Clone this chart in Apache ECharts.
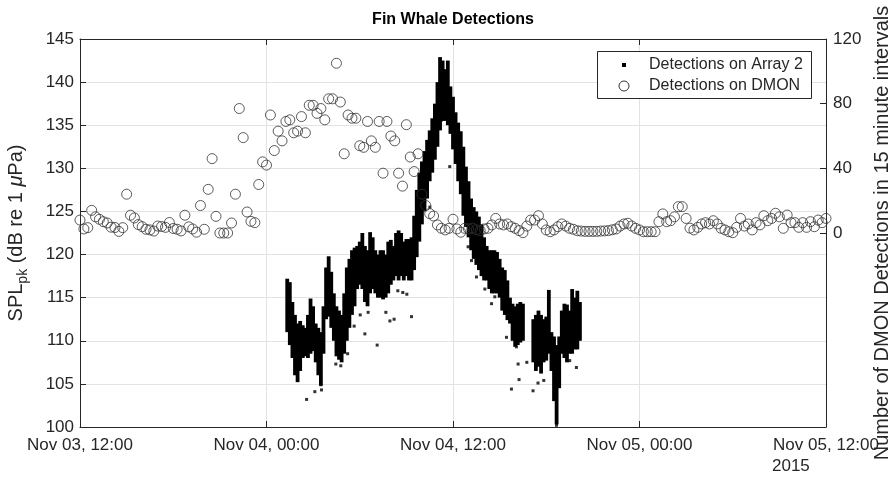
<!DOCTYPE html>
<html>
<head>
<meta charset="utf-8">
<script src="https://cdn.jsdelivr.net/npm/echarts@6/dist/echarts.min.js"></script>
<style>
html, body { margin: 0; padding: 0; background: #fff; }
#chart { width: 890px; height: 480px; }
</style>
</head>
<body>
<div id="chart"></div>
<script>
// Time is measured in hours since Nov 03 2015, 12:00.
const xTickLabels = ['Nov 03, 12:00', 'Nov 04, 00:00', 'Nov 04, 12:00', 'Nov 05, 00:00', 'Nov 05, 12:00'];
const xYearLabel = '2015';

// DMON: number of detections in each 15 minute interval
const dmonStartHour = 0;
const dmonStepHours = 0.25;
const dmonCounts = [
  8, 2.5, 3.3, 14, 10, 8.5, 7, 6.2, 3.6, 3.4,
  1, 3.3, 24, 11, 9.3, 5.2, 3.9, 2.3, 1.9, 1.2,
  4.3, 4, 3.5, 6.5, 2.8, 2.3, 1.3, 11, 3.8, 2.5,
  0.5, 17, 2.3, 27, 46, 10.3, 0, 0, 0, 6.2,
  24, 77, 59, 13, 7.2, 6.4, 30, 44, 42, 73,
  51, 63, 57, 69, 70, 62, 63, 72, 62, 79,
  79, 74, 77, 70, 83, 83, 105, 81, 49, 73,
  71, 71, 54, 53, 69, 57, 53, 69, 37, 69,
  60, 57, 37, 29, 67, 47, 38, 49, 24, 17,
  12, 10.5, 5, 2.9, 1.9, 2.9, 8.5, 2.5, 0.5, 2.9,
  2.5, 3, 2, 1.5, 2.5, 2.9, 5, 9, 5.6, 5,
  5.6, 3.9, 2.9, 1.5, 0.2, 4.3, 8, 8, 10.7, 5.6,
  1.9, 0.8, 1.9, 3.9, 5.6, 4.3, 2.9, 2.3, 1.4, 1.2,
  1, 1, 1, 1, 1.2, 1.3, 1.5, 2, 2.5, 4.3,
  5.6, 6, 4.3, 2.9, 1.9, 0.8, 0.8, 0.8, 0.8, 7,
  11.8, 7, 7.6, 10, 16.3, 16.3, 9, 3, 1.9, 3.5,
  5.6, 6.4, 5.6, 7.6, 5.6, 2.9, 1.9, 0.8, 0.2, 3.5,
  9, 4.3, 5.6, 1.9, 6.4, 5, 10.7, 7.6, 9, 12.2,
  10, 2.9, 11.1, 6.4, 6.4, 3.5, 6.4, 3.5, 7, 3.9,
  8, 6.4, 9
];

// Array 2: spread of peak SPL of the detections in each 10 minute slot (null = no detections)
const arrayStartHour = 13 + 20 / 60;
const arrayStepHours = 10 / 60;
const arrayHigh = [
  117.2, 116.8, 114.5, 113.0, 112.0, 112.3, 111.8, 111.5, 113.0, 114.9,
  114.0, 112.0, 111.5, 111.0, 114.0, 118.5, 119.8, 118.0, 115.5, 114.0,
  113.5, 113.0, 115.5, 118.5, 119.5, 120.5, 120.8, 121.0, 121.5, 122.5,
  121.0, 120.5, 122.6, 122.0, 120.5, 120.0, 120.5, 120.5, 120.0, 121.5,
  121.7, 121.0, 122.5, 122.8, 122.5, 121.5, 121.8, 121.8, 122.0, 124.5,
  127.5, 129.5, 130.8, 132.0, 133.3, 134.4, 135.8, 137.5, 140.0, 142.9,
  142.5, 141.5, 142.5, 139.5, 138.3, 136.5, 135.3, 134.3, 132.5, 130.2,
  128.5, 126.5, 125.5, 125.0, 124.4, 123.5, 122.0, 121.0, 120.5, 120.5,
  120.5, 120.3, 119.5, 118.5, 118.2, 117.0, 115.0, 114.3, 114.0, 114.3,
  114.5, 114.3, null, null, null, 112.5, 113.0, 113.5, 113.0, 112.5,
  112.8, 115.9, 111.0, 110.5, 109.5, 110.5, 113.5, 114.3, 114.2, 113.5,
  116.0, 115.0, 115.8, 114.5
];
const arrayLow = [
  111.0, 109.5, 108.0, 106.0, 105.2, 106.5, 108.0, 108.2, 108.0, 108.5,
  108.8, 107.5, 106.0, 104.8, 108.5, 112.5, 112.8, 111.5, 110.0, 108.2,
  107.8, 107.5, 108.5, 110.0, 111.5, 113.0, 114.0, 116.0, 116.5, 116.0,
  114.5, 114.0, 115.5, 116.0, 115.5, 115.0, 115.0, 114.8, 115.0, 115.5,
  116.5, 117.0, 117.5, 117.0, 117.5, 117.0, 117.5, 117.0, 117.0, 118.2,
  119.7, 121.5, 123.5, 125.0, 126.5, 128.5, 129.5, 131.0, 132.5, 134.4,
  135.5, 135.5, 135.0, 134.0, 132.2, 130.5, 128.5, 127.0, 124.5, 123.2,
  122.0, 120.5, 119.5, 118.8, 118.2, 117.5, 117.0, 117.0, 116.0, 115.5,
  115.5, 115.5, 115.0, 113.5, 113.0, 112.4, 112.0, 110.0, 109.3, 109.5,
  109.8, 110.0, null, null, null, 107.5, 106.5, 107.0, 106.2, 107.5,
  107.7, 108.5, 106.5, 103.0, 100.3, 104.5, 108.5, 108.0, 107.5, 108.5,
  108.5, 109.0, 109.0, 110.0
];

// Array 2: isolated detections away from the main cluster
const outlierHours = [
  14.58, 15.11, 15.54, 15.50, 16.46, 16.78, 17.22, 17.64, 18.03, 18.33,
  18.54, 19.12, 19.68, 19.94, 20.21, 21.33, 20.45, 20.77, 21.03, 23.26,
  23.79, 22.51, 24.87, 24.97, 25.19, 25.51, 25.83, 26.05, 26.48, 26.69,
  27.44, 27.76, 28.25, 28.19, 28.08, 29.15, 29.47, 29.84, 30.66, 31.51,
  31.94, 28.75
];
const outlierSpl = [
  103.2, 104.1, 104.3, 104.9, 107.3, 107.1, 108.5, 111.7, 113.0, 110.8,
  113.3, 109.5, 113.3, 112.3, 112.5, 112.8, 115.8, 115.6, 115.4, 135.6,
  130.2, 125.5, 126.7, 120.9, 119.3, 117.4, 118.6, 116.0, 114.3, 115.1,
  110.4, 104.4, 105.5, 107.3, 109.3, 104.2, 105.1, 105.4, 100.2, 107.7,
  106.9, 107.5
];

const AX = '#262626';
const FONT = 'Arial, "Liberation Sans", Helvetica, sans-serif';
const NAME_A2 = 'Detections on Array 2';
const NAME_DMON = 'Detections on DMON';

const dmonData = dmonCounts.map((c, i) => [dmonStartHour + i * dmonStepHours, c]);
const bandData = [];
arrayHigh.forEach((h, k) => {
  if (h != null && arrayLow[k] != null) {
    bandData.push([arrayStartHour + k * arrayStepHours, h, arrayLow[k]]);
  }
});
const outlierData = outlierHours.map((t, i) => [t, outlierSpl[i]]);

const chart = echarts.init(document.getElementById('chart'), null, { renderer: 'canvas' });

const axisLineStyle = { color: AX, width: 1 };

// legend box (opaque, framed) in the upper right corner of the plot
const LEG = { x: 597.5, y: 51.5, w: 214, h: 47, markX: 624, textX: 649, row1: 65, row2: 86 };

chart.setOption({
  animation: false,
  backgroundColor: '#fff',
  textStyle: { fontFamily: FONT },
  title: {
    text: 'Fin Whale Detections',
    left: 453,
    textAlign: 'center',
    top: 12,
    padding: 0,
    textStyle: { fontFamily: FONT, fontSize: 16, fontWeight: 'bold', color: '#000' }
  },
  grid: { left: 80, right: 64, top: 39, bottom: 53, containLabel: false, outerBoundsMode: 'none' },
  xAxis: [
    {
      type: 'value', min: 0, max: 48, interval: 12, position: 'bottom',
      axisLine: { show: true, onZero: false, lineStyle: axisLineStyle },
      axisTick: { show: true, inside: true, length: 6, lineStyle: axisLineStyle },
      axisLabel: {
        fontFamily: FONT, fontSize: 17, color: AX, margin: 10,
        formatter: v => xTickLabels[Math.round(v / 12)] || ''
      },
      splitLine: { show: true, lineStyle: { color: '#e3e3e3', width: 1 } }
    },
    {
      type: 'value', min: 0, max: 48, interval: 12, position: 'top',
      axisLine: { show: true, onZero: false, lineStyle: axisLineStyle },
      axisTick: { show: true, inside: true, length: 6, lineStyle: axisLineStyle },
      axisLabel: { show: false },
      splitLine: { show: false }
    }
  ],
  yAxis: [
    {
      type: 'value', min: 100, max: 145, interval: 5, position: 'left',
      axisLine: { show: true, onZero: false, lineStyle: axisLineStyle },
      axisTick: { show: true, inside: true, length: 6, lineStyle: axisLineStyle },
      axisLabel: { fontFamily: FONT, fontSize: 17, color: AX, margin: 6 },
      splitLine: { show: true, lineStyle: { color: '#e3e3e3', width: 1 } },
      name: '{a|SPL}{s|pk}{a| (dB re 1 }{m|\u03bc}{a|Pa)}',
      nameLocation: 'middle',
      nameRotate: 90,
      nameGap: 50,
      nameTextStyle: {
        color: AX,
        rich: {
          a: { fontFamily: FONT, fontSize: 20, color: AX, lineHeight: 28 },
          s: { fontFamily: FONT, fontSize: 14, color: AX, lineHeight: 14, verticalAlign: 'bottom' },
          m: { fontFamily: FONT, fontSize: 20, color: AX, fontStyle: 'italic', lineHeight: 28 }
        }
      }
    },
    {
      type: 'value', min: -120, max: 120, interval: 40, position: 'right',
      axisLine: { show: true, onZero: false, lineStyle: axisLineStyle },
      axisTick: { show: true, inside: true, length: 6, lineStyle: axisLineStyle, customValues: [0, 40, 80, 120] },
      axisLabel: {
        fontFamily: FONT, fontSize: 17, color: AX, margin: 7,
        customValues: [0, 40, 80, 120],
        formatter: v => (v >= 0 ? String(v) : '')
      },
      splitLine: { show: false },
      name: 'Number of DMON Detections in 15 minute intervals',
      nameLocation: 'middle',
      nameRotate: 90,
      nameGap: 46,
      nameTextStyle: { fontFamily: FONT, fontSize: 20, color: AX }
    }
  ],
  graphic: [
    {
      type: 'rect', z: 8,
      shape: { x: LEG.x, y: LEG.y, width: LEG.w, height: LEG.h },
      style: { fill: '#fff', stroke: AX, lineWidth: 1 }
    },
    {
      type: 'rect', z: 9,
      shape: { x: LEG.markX - 2, y: LEG.row1 - 2, width: 4, height: 4 },
      style: { fill: '#000' }
    },
    {
      type: 'circle', z: 9,
      shape: { cx: LEG.markX, cy: LEG.row2, r: 5 },
      style: { fill: 'none', stroke: '#333', lineWidth: 1 }
    },
    {
      type: 'text', z: 9, x: LEG.textX, y: LEG.row1,
      style: { text: NAME_A2, font: '16px ' + FONT, fill: AX, verticalAlign: 'middle', align: 'left' }
    },
    {
      type: 'text', z: 9, x: LEG.textX, y: LEG.row2,
      style: { text: NAME_DMON, font: '16px ' + FONT, fill: AX, verticalAlign: 'middle', align: 'left' }
    },
    {
      type: 'text', z: 8, left: 772, top: 458,
      style: { text: xYearLabel, font: '17px ' + FONT, fill: AX }
    }
  ],
  series: [
    {
      name: NAME_A2,
      type: 'scatter',
      xAxisIndex: 0, yAxisIndex: 0,
      symbol: 'rect', symbolSize: 3,
      itemStyle: { color: '#000' },
      data: outlierData,
      z: 3
    },
    {
      name: NAME_A2,
      type: 'custom',
      xAxisIndex: 0, yAxisIndex: 0,
      encode: { x: 0, y: [1, 2] },
      renderItem: (params, api) => {
        const t = api.value(0);
        const p1 = api.coord([t - arrayStepHours / 2, api.value(1)]);
        const p2 = api.coord([t + arrayStepHours / 2, api.value(2)]);
        return {
          type: 'rect',
          shape: { x: p1[0] - 0.6, y: p1[1], width: p2[0] - p1[0] + 1.2, height: p2[1] - p1[1] },
          style: { fill: '#000' }
        };
      },
      data: bandData,
      z: 3
    },
    {
      name: NAME_DMON,
      type: 'scatter',
      xAxisIndex: 0, yAxisIndex: 1,
      symbol: 'circle', symbolSize: 10,
      itemStyle: { color: 'rgba(0,0,0,0)', borderColor: '#333', borderWidth: 1 },
      data: dmonData,
      z: 4
    }
  ]
});
</script>
</body>
</html>
